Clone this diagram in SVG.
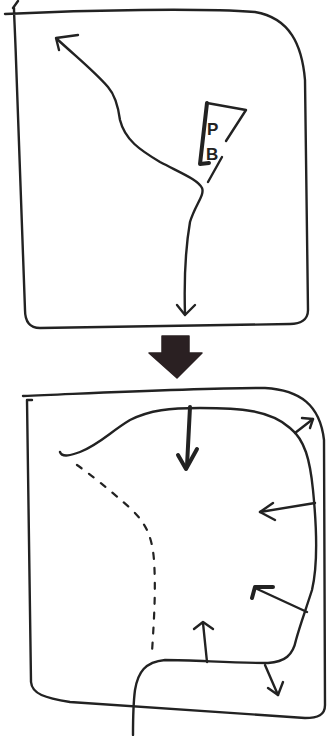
<svg xmlns="http://www.w3.org/2000/svg" width="334" height="736" viewBox="0 0 334 736">
<style>
.s{fill:none;stroke:#222;stroke-width:2.4;stroke-linecap:round;stroke-linejoin:round}
.t{fill:none;stroke:#222;stroke-width:4;stroke-linecap:round;stroke-linejoin:round}
.d{fill:none;stroke:#222;stroke-width:2.2;stroke-dasharray:6 9;stroke-linecap:round}
.lbl{font-family:"Liberation Sans",Arial,sans-serif;font-size:17px;font-weight:bold;fill:#222}
</style>
<rect width="334" height="736" fill="#fff"/>
<g id="top-frame">
<path class="s" d="M5,14 C90,10 200,8 255,12 C290,18 302,45 305,80 L308,310 C308,320 300,324 290,324 L40,328 C30,328 25,322 25,310 L16,60 C15,30 14,15 14,8"/>
<path class="s" d="M13,8 L18,1"/>
</g>
<g id="top-box-p">
<path class="s" d="M207,103 L246,110 L226,141"/>
<path class="t" d="M207,103 L200,164 L209,163"/>
<path class="s" d="M222,157 L208,182"/>
<text class="lbl" x="207" y="135">P</text>
<text class="lbl" x="206" y="160">B</text>
</g>
<g id="connectors-top">
<path class="s" d="M185,314 C184,280 186,245 190,222 C195,205 205,195 202,188 C198,180 185,175 160,162 C140,150 125,140 120,120 C118,105 115,95 108,87 C95,72 80,60 57,39"/>
<path class="s" d="M78,35 L56,38 L59,50"/>
<path class="s" d="M177,305 L185,315 L195,305"/>
</g>
<g id="transition-arrow">
<path d="M162,336 L189,336 L189,353 L202,353 L177,378 L149,353 L162,353 Z" fill="#2a2022" stroke="#2a2022" stroke-width="1.5" stroke-linejoin="round"/>
</g>
<g id="bottom-frame">
<path class="s" d="M23,396 C120,392 200,388 265,388 C300,390 320,405 324,440 L325,705 C325,715 318,718 305,718 L70,702 C45,698 32,694 31,682 L27,400 L32,400"/>
</g>
<g id="bottom-shape">
<path class="s" d="M60,452 C62,458 72,455 80,452 C100,444 110,432 130,420 C150,410 170,408 200,408 C240,408 270,410 290,428 C305,440 310,460 313,490 C317,530 318,565 312,590 C305,612 300,625 296,640 C293,655 285,662 268,663 C230,663 195,660 165,660 C145,662 138,672 135,690 C133,705 133,720 133,735"/>
<path class="d" d="M77,465 C90,474 110,490 130,508 C145,522 152,535 154,560 C156,590 154,620 152,652"/>
</g>
<g id="connectors-bottom">
<path class="t" d="M190,407 L187,466"/>
<path class="t" d="M178,455 L186,469 L197,449"/>
<path class="s" d="M295,433 L313,419"/>
<path class="s" d="M302,418 L313,419 L310,428"/>
<path class="s" d="M315,503 L260,512"/>
<path class="s" d="M273,503 L260,512 L275,520"/>
<path class="s" d="M307,612 L255,588"/>
<path class="t" d="M273,587 L255,587 L252,598"/>
<path class="s" d="M207,662 L203,623"/>
<path class="s" d="M194,629 L203,622 L213,629"/>
<path class="s" d="M265,665 L278,695"/>
<path class="s" d="M268,688 L278,695 L283,682"/>
</g>
</svg>
